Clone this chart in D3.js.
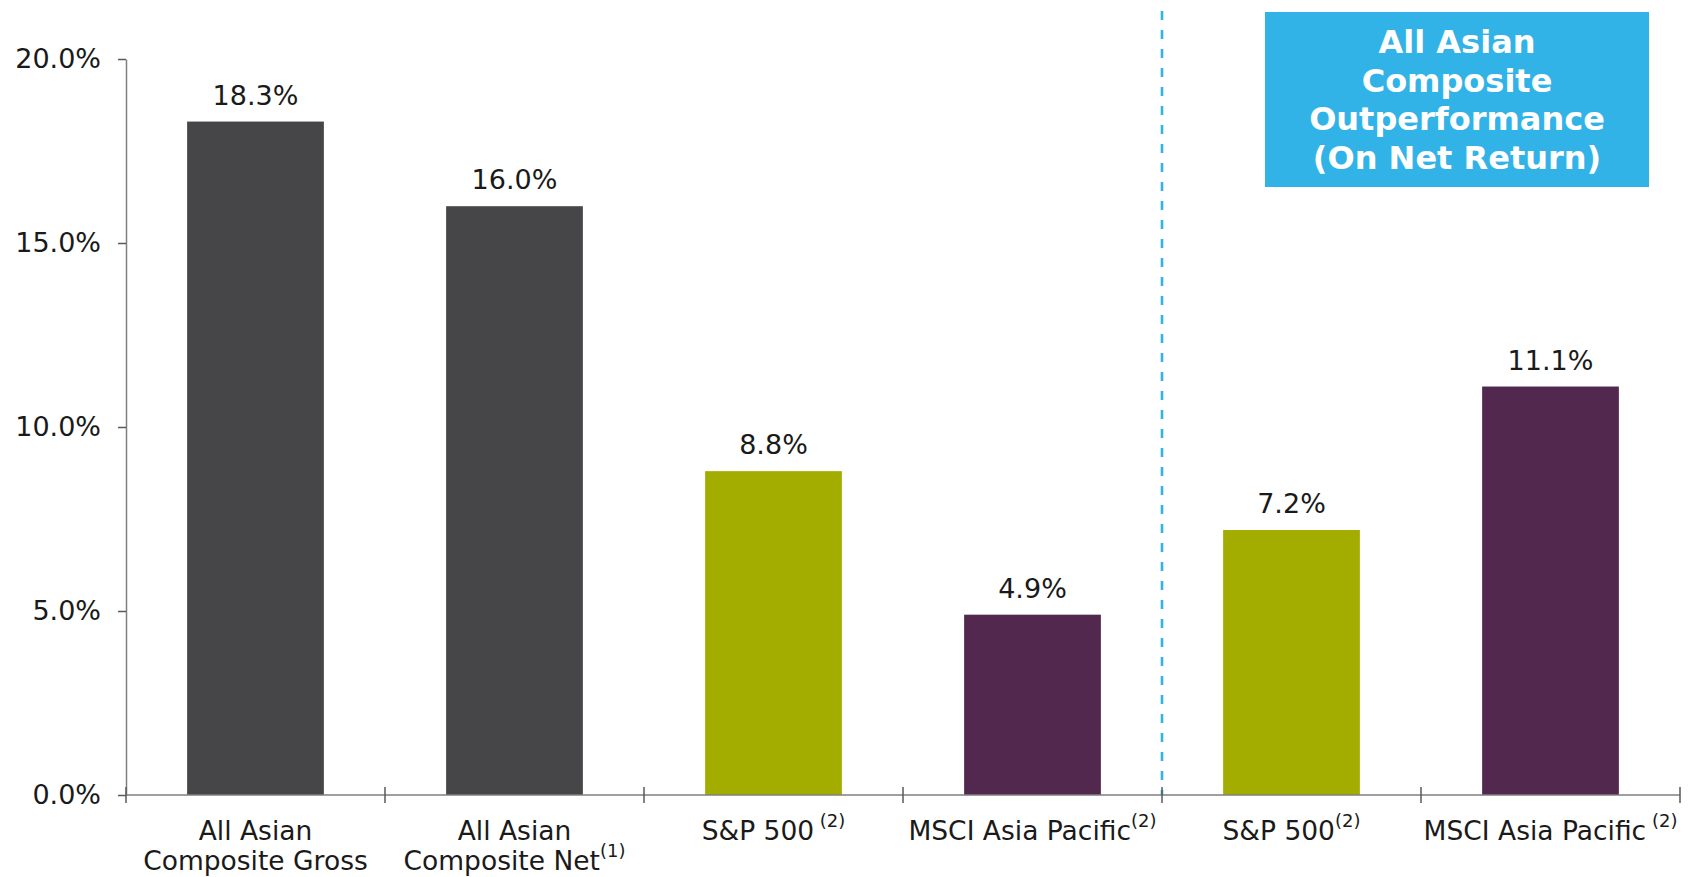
<!DOCTYPE html>
<html>
<head>
<meta charset="utf-8">
<script src="https://cdn.jsdelivr.net/npm/d3@7"></script>
<style>
  html, body { margin: 0; padding: 0; background: #ffffff; }
  svg { display: block; font-family: "DejaVu Sans", Verdana, sans-serif; }
</style>
</head>
<body>
<svg id="chart" width="1698" height="877"></svg>
<script>
// ---- data ----
const categories = ["All Asian Composite Gross", "All Asian Composite Net", "S&P 500", "MSCI Asia Pacific", "S&P 500 ", "MSCI Asia Pacific "];
const values = [18.3, 16.0, 8.8, 4.9, 7.2, 11.1];
const valueLabels = ["18.3%", "16.0%", "8.8%", "4.9%", "7.2%", "11.1%"];
const labelLines = [
  ["All Asian", "Composite Gross"],
  ["All Asian", "Composite Net"],
  ["S&P 500"],
  ["MSCI Asia Pacific"],
  ["S&P 500"],
  ["MSCI Asia Pacific"]
];
const footnotes = ["", "(1)", " (2)", "(2)", "(2)", " (2)"];
const barColors = ["#464547", "#464547", "#A3AD00", "#52284E", "#A3AD00", "#52284E"];
const yTicks = [0, 5, 10, 15, 20];
const yTickLabels = ["0.0%", "5.0%", "10.0%", "15.0%", "20.0%"];
const boxLines = ["All Asian", "Composite", "Outperformance", "(On Net Return)"];

// ---- layout ----
const plotLeft = 126, plotRight = 1680, plotTop = 59, plotBottom = 795;
const svg = d3.select("#chart");

const x = d3.scaleBand().domain(categories).range([plotLeft, plotRight]).padding(0);
const y = d3.scaleLinear().domain([0, 20]).range([plotBottom, plotTop]);
const barW = x.bandwidth() * 0.528;

// dashed separator line (between 4th and 5th category)
const sepX = x(categories[4]);
svg.append("line")
  .attr("x1", sepX).attr("x2", sepX)
  .attr("y1", 11).attr("y2", plotBottom)
  .attr("stroke", "#32B3E7").attr("stroke-width", 2.6)
  .attr("stroke-dasharray", "9,10");

// bars
svg.selectAll("rect.bar").data(values).enter().append("rect")
  .attr("class", "bar")
  .attr("x", (d, i) => x(categories[i]) + (x.bandwidth() - barW) / 2)
  .attr("y", d => y(d))
  .attr("width", barW)
  .attr("height", d => y(0) - y(d))
  .attr("fill", (d, i) => barColors[i]);

// value labels
svg.selectAll("text.val").data(values).enter().append("text")
  .attr("class", "val")
  .attr("x", (d, i) => x(categories[i]) + x.bandwidth() / 2)
  .attr("y", d => y(d) - 17)
  .attr("text-anchor", "middle")
  .attr("font-size", 27)
  .attr("fill", "#1a1a1a")
  .text((d, i) => valueLabels[i]);

// y axis
const yAxis = d3.axisLeft(y).tickValues(yTicks).tickFormat((d, i) => yTickLabels[i]).tickSize(8).tickSizeOuter(0).tickPadding(17);
const gy = svg.append("g").attr("transform", `translate(${plotLeft},0)`).call(yAxis);
gy.select(".domain").attr("stroke", "#7f7f7f").attr("stroke-width", 1.5);
gy.selectAll(".tick line").attr("stroke", "#595959").attr("stroke-width", 1.5);
gy.selectAll(".tick text").attr("font-size", 27).attr("fill", "#1a1a1a")
  .attr("font-family", "DejaVu Sans, Verdana, sans-serif");

// x axis line
svg.append("line")
  .attr("x1", plotLeft).attr("x2", plotRight)
  .attr("y1", plotBottom).attr("y2", plotBottom)
  .attr("stroke", "#7f7f7f").attr("stroke-width", 1.5);

// x category boundary ticks
const boundaries = categories.map(c => x(c)).concat([plotRight]);
svg.selectAll("line.xtick").data(boundaries).enter().append("line")
  .attr("class", "xtick")
  .attr("x1", d => d).attr("x2", d => d)
  .attr("y1", plotBottom - 8).attr("y2", plotBottom + 8)
  .attr("stroke", "#595959").attr("stroke-width", 1.5);

// category labels
labelLines.forEach((lines, i) => {
  const cx = x(categories[i]) + x.bandwidth() / 2;
  const t = svg.append("text")
    .attr("x", cx).attr("y", 840)
    .attr("text-anchor", "middle")
    .attr("font-size", 26.5)
    .attr("fill", "#1a1a1a");
  lines.forEach((ln, j) => {
    t.append("tspan").attr("x", cx).attr("dy", j === 0 ? 0 : 30).text(ln);
    if (j === lines.length - 1 && footnotes[i]) {
      t.append("tspan").attr("dy", -13).attr("font-size", 18).text(footnotes[i]);
    }
  });
});

// annotation box
const boxX = 1265, boxY = 12, boxW = 384, boxH = 175;
svg.append("rect")
  .attr("x", boxX).attr("y", boxY).attr("width", boxW).attr("height", boxH)
  .attr("fill", "#32B3E7");
const bt = svg.append("text")
  .attr("text-anchor", "middle")
  .attr("font-size", 32)
  .attr("font-weight", "bold")
  .attr("fill", "#ffffff");
boxLines.forEach((ln, j) => {
  bt.append("tspan").attr("x", boxX + boxW / 2).attr("y", 53 + j * 38.5).text(ln);
});
</script>
</body>
</html>
